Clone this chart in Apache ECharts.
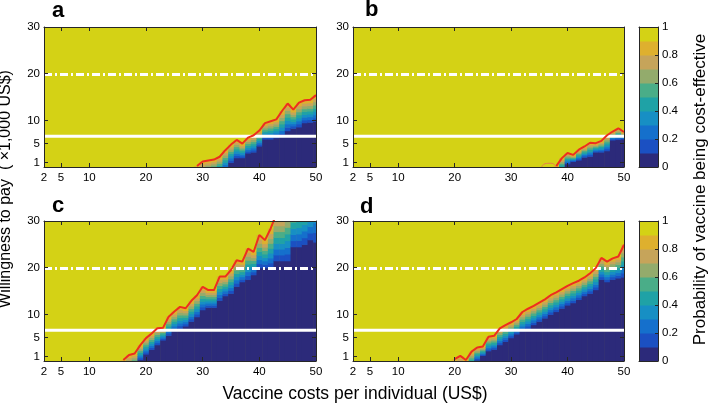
<!DOCTYPE html>
<html>
<head>
<meta charset="utf-8">
<script src="https://cdn.jsdelivr.net/npm/echarts@6.0.0/dist/echarts.min.js"></script>
<style>
html,body{margin:0;padding:0;background:#fff;}
#chart{width:709px;height:403px;}
</style>
</head>
<body>
<div id="chart"></div>
<script>
// ---------------- data ----------------
const xTicks = [2, 5, 10, 20, 30, 40, 50];
const yTicks = [1, 5, 10, 20, 30];
const cbTicks = [0, 0.2, 0.4, 0.6, 0.8, 1];
const probLevels = [0, 0.1, 0.2, 0.3, 0.4, 0.5, 0.6, 0.7, 0.8, 0.9];
const levelColors = ['#2c2a7a', '#1b50c2', '#1570cc', '#178fc4', '#1fa2a6',
                     '#4aad88', '#93ab6c', '#c6a45a', '#deb02e', '#d4d215'];
const wtpGdp = 6.6;    // solid white line
const wtp3Gdp = 19.8;  // dash-dot white line

// Panel a: vaccine cost, WTP of the red contour (~0.9), WTP of dark edge (~0.1)
const aCost = [29, 30, 31, 32, 33, 34, 35, 36, 37, 38, 39, 40, 41, 42, 43, 44, 45, 46, 47, 48, 49, 50];
const aRed  = [0.2, 1.2, 1.4, 1.6, 2.2, 3.6, 4.8, 5.8, 5.0, 6.3, 6.8, 7.8, 9.4, 9.8, 10.2, 12.0, 13.6, 12.3, 13.8, 14.3, 14.4, 15.4];
const aDark = [-3, -3, -2.5, -2, -1.5, -0.5, 1.0, 2.0, 2.0, 3.0, 3.2, 4.5, 6.0, 6.0, 6.3, 6.5, 7.8, 8.3, 8.6, 9.5, 9.6, 9.8];

// Panel b
const bCost = [38, 39, 40, 41, 42, 43, 44, 45, 46, 47, 48, 49, 50];
const bRed  = [0.2, 1.9, 3.0, 2.6, 3.7, 4.4, 5.2, 5.1, 5.6, 6.8, 7.6, 8.3, 7.5];
const bDark = [-3, -1.0, 0.7, 1.2, 1.5, 2.1, 2.3, 3.2, 3.2, 3.5, 5.8, 5.9, 6.0];
const bLoopCost = [35.4, 36, 37, 37.7, 38];
const bLoopWtp  = [0, 0.7, 0.8, 0.5, 0];

// Panel c
const cCost = [16, 17, 18, 19, 20, 21, 22, 23, 24, 25, 26, 27, 28, 29, 30, 31, 32, 33, 34, 35,
               36, 37, 38, 39, 40, 41, 42, 43, 44, 45, 46, 47, 48, 49, 50];
const cRed  = [0.2, 1.3, 1.6, 3.4, 4.9, 5.9, 7.0, 7.1, 9.5, 10.6, 11.6, 11.3, 12.9, 14.1, 15.9, 15.2, 15.2, 18.1, 18.1, 19.5,
               21.6, 21.3, 24.1, 23.4, 27.0, 25.9, 28.4, 31.5, 31.5, 33.0, 35.0, 35.5, 36.5, 37.5, 42.0];
const cDark = [-4, -3, -2, 0.3, 1.5, 2.5, 3.5, 4.5, 5.5, 6.5, 7.0, 7.5, 8.5, 9.5, 11.0, 11.5, 11.5, 13.0, 14.0, 14.5,
               16.0, 17.0, 17.5, 18.5, 20.0, 20.0, 20.0, 21.5, 21.5, 21.5, 24.5, 24.5, 25.0, 26.0, 25.5];

// Panel d
const dCost = [20, 21, 22, 23, 24, 25, 26, 27, 28, 29, 30, 31, 32, 33, 34, 35, 36, 37, 38, 39,
               40, 41, 42, 43, 44, 45, 46, 47, 48, 49, 50];
const dRed  = [0.4, 1.1, 0.2, 2.0, 2.9, 3.1, 5.2, 5.4, 7.0, 7.7, 8.3, 9.0, 10.5, 11.2, 11.8, 12.5, 13.2, 14.1, 14.7, 15.4,
               16.1, 16.7, 17.2, 17.9, 18.8, 19.9, 22.1, 21.3, 22.0, 22.4, 24.9];
const dDark = [-4, -3.5, -3, -1.5, 0.2, 1.2, 2.2, 2.5, 3.5, 4.2, 5.0, 5.8, 6.5, 7.0, 7.8, 8.5, 9.2, 10.0, 10.6, 11.3,
               12.0, 12.5, 13.2, 14.0, 14.5, 15.3, 17.5, 17.0, 17.5, 17.8, 18.0];

const panelLetters = ['a', 'b', 'c', 'd'];

// ---------------- layout / style ----------------
const FONT = '"Liberation Sans", Arial, Helvetica, sans-serif';
const axisColor = '#262626';
const panels = [
  {cost: aCost, red: aRed, dark: aDark, grid: {left: 44, top: 27, width: 272, height: 140}, letter: [52, 10.5]},
  {cost: bCost, red: bRed, dark: bDark, grid: {left: 353, top: 27, width: 271, height: 140}, letter: [365, 9.5]},
  {cost: cCost, red: cRed, dark: cDark, grid: {left: 44, top: 221, width: 272, height: 140}, letter: [52, 205.5]},
  {cost: dCost, red: dRed, dark: dDark, grid: {left: 353, top: 221, width: 271, height: 140}, letter: [360, 207]}
];
const cbGrids = [
  {left: 639, top: 27, width: 19, height: 140},
  {left: 639, top: 221, width: 19, height: 140}
];

function renderBands(params, api) {
  const x = api.value(0), hi = api.value(1), lo = api.value(2);
  const cs = params.coordSys;
  const area = {x: cs.x, y: cs.y, width: cs.width, height: cs.height};
  const bounds = [-200];
  for (let k = 1; k <= 9; k++) bounds.push(lo + (k - 1) / 8 * (hi - lo));
  const children = [];
  for (let k = 0; k < 9; k++) {
    const pa = api.coord([x - 0.5, bounds[k]]);
    const pb = api.coord([x + 0.5, bounds[k + 1]]);
    const r = echarts.graphic.clipRectByRect(
      {x: pa[0], y: pb[1], width: pb[0] - pa[0] + 0.6, height: pa[1] - pb[1] + 0.6}, area);
    if (r) children.push({type: 'rect', shape: r, style: {fill: levelColors[k]}});
  }
  return {type: 'group', children: children};
}

function renderCb(params, api) {
  const lv = api.value(0);
  const pa = api.coord([0, lv]);
  const pb = api.coord([1, lv + 0.1]);
  return {type: 'rect', shape: {x: pa[0], y: pb[1], width: pb[0] - pa[0], height: pa[1] - pb[1] + 0.5},
          style: {fill: levelColors[api.value(1)]}};
}

function axis(gi, pos, opt) {
  return {
    gridIndex: gi, type: 'value', position: pos, min: opt.min, max: opt.max, z: 10,
    axisLine: {show: true, onZero: false, lineStyle: {color: axisColor, width: 1}},
    axisTick: {show: !!opt.ticks, inside: true, length: opt.tickLen || 4, customValues: opt.ticks,
               lineStyle: {color: axisColor, width: 1}},
    axisLabel: {show: !!opt.label, customValues: opt.ticks, color: '#000', fontSize: 11.5,
                fontFamily: FONT, margin: opt.margin || 4},
    splitLine: {show: false}
  };
}

const grid = [], xAxis = [], yAxis = [], series = [], graphic = [];

panels.forEach((p, g) => {
  grid.push(Object.assign({show: true, backgroundColor: levelColors[9], borderWidth: 0}, p.grid));
  xAxis.push(axis(g, 'bottom', {min: 2, max: 50, ticks: xTicks, label: true, margin: 5}));
  xAxis.push(axis(g, 'top', {min: 2, max: 50, ticks: xTicks, label: false}));
  yAxis.push(axis(g, 'left', {min: 0, max: 30, ticks: yTicks, label: true, margin: 4}));
  yAxis.push(axis(g, 'right', {min: 0, max: 30, ticks: yTicks, label: false}));
  const xi = 2 * g;
  series.push({
    type: 'custom', xAxisIndex: xi, yAxisIndex: xi, renderItem: renderBands, silent: true, z: 1,
    encode: {x: 0, y: 1},
    data: p.cost.map((c, i) => [c, p.red[i], p.dark[i]])
  });
  series.push({
    type: 'line', xAxisIndex: xi, yAxisIndex: xi, symbol: 'none', silent: true, z: 3,
    data: [[2, wtpGdp], [50, wtpGdp]], lineStyle: {color: '#ffffff', width: 3}
  });
  series.push({
    type: 'line', xAxisIndex: xi, yAxisIndex: xi, symbol: 'none', silent: true, z: 3,
    data: [[2, wtp3Gdp], [50, wtp3Gdp]], lineStyle: {color: '#ffffff', width: 3, type: [8, 3, 2, 3]}
  });
  series.push({
    type: 'line', xAxisIndex: xi, yAxisIndex: xi, symbol: 'none', silent: true, z: 4, clip: true,
    data: p.cost.map((c, i) => [c, p.red[i]]), lineStyle: {color: '#ee2e1e', width: 2}
  });
  if (g === 1) {
    series.push({
      type: 'line', xAxisIndex: xi, yAxisIndex: xi, symbol: 'none', silent: true, z: 4, smooth: true, clip: true,
      data: bLoopCost.map((c, i) => [c, bLoopWtp[i]]), lineStyle: {color: '#e8784e', width: 1}
    });
  }
  graphic.push({
    type: 'text', x: p.letter[0], y: p.letter[1], silent: true,
    style: {text: panelLetters[g], fontSize: 22, fontWeight: 'bold', fontFamily: FONT, fill: '#000',
            align: 'left', verticalAlign: 'middle', textAlign: 'left', textVerticalAlign: 'middle'}
  });
});

cbGrids.forEach((cg, j) => {
  const gi = panels.length + j;
  grid.push(Object.assign({show: false}, cg));
  const base = xAxis.length;
  xAxis.push(axis(gi, 'bottom', {min: 0, max: 1}));
  xAxis.push(axis(gi, 'top', {min: 0, max: 1}));
  yAxis.push(axis(gi, 'left', {min: 0, max: 1}));
  yAxis.push(axis(gi, 'right', {min: 0, max: 1, ticks: cbTicks, label: true, tickLen: 3, margin: 4}));
  series.push({
    type: 'custom', xAxisIndex: base, yAxisIndex: base, renderItem: renderCb, silent: true, z: 1,
    encode: {x: -1, y: 0},
    data: probLevels.map((v, i) => [v, i])
  });
});

graphic.push({
  type: 'text', x: 355, y: 394, silent: true,
  style: {text: 'Vaccine costs per individual (US$)', fontSize: 17.5, fontFamily: FONT, fill: '#000',
          align: 'center', verticalAlign: 'middle', textAlign: 'center', textVerticalAlign: 'middle'}
});
graphic.push({
  type: 'text', x: 6, y: 189, rotation: Math.PI / 2, silent: true,
  style: {text: 'Willingness to pay  ( \u00d71,000 US$)', fontSize: 16, fontFamily: FONT, fill: '#000',
          align: 'center', verticalAlign: 'middle', textAlign: 'center', textVerticalAlign: 'middle'}
});
graphic.push({
  type: 'text', x: 700, y: 189.5, rotation: Math.PI / 2, silent: true,
  style: {text: 'Probability of vaccine being cost-effective', fontSize: 17, fontFamily: FONT, fill: '#000',
          align: 'center', verticalAlign: 'middle', textAlign: 'center', textVerticalAlign: 'middle'}
});

const chart = echarts.init(document.getElementById('chart'), null, {renderer: 'canvas', width: 709, height: 403});
chart.setOption({
  animation: false,
  backgroundColor: '#ffffff',
  grid: grid,
  xAxis: xAxis,
  yAxis: yAxis,
  series: series,
  graphic: graphic
});
</script>
</body>
</html>
